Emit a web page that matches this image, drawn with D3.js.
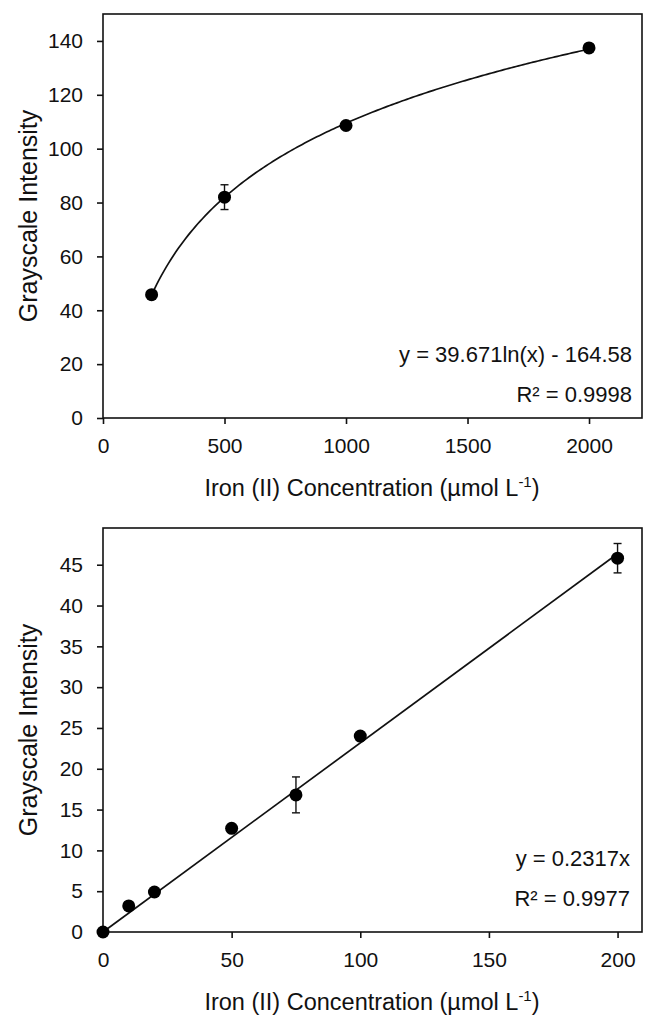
<!DOCTYPE html>
<html>
<head>
<meta charset="utf-8">
<script src="https://cdn.jsdelivr.net/npm/d3@7"></script>
<style>
  body { margin: 0; background: #fff; }
  svg { display: block; }
</style>
</head>
<body>
<svg id="chart" width="646" height="1020"></svg>
<script>
// Top panel: logarithmic calibration (200 - 2000 umol/L)
var topConc = [200, 500, 1000, 2000];
var topIntensity = [45.8, 82.0, 108.6, 137.4];
var topError = [0, 4.6, 0, 0];
var topTicksX = [0, 500, 1000, 1500, 2000];
var topTicksY = [0, 20, 40, 60, 80, 100, 120, 140];
var topSlope = 39.671, topIntercept = -164.58;

// Bottom panel: linear calibration (0 - 200 umol/L)
var botConc = [0, 10, 20, 50, 75, 100, 200];
var botIntensity = [0, 3.2, 4.9, 12.7, 16.8, 24.0, 45.8];
var botError = [0, 0, 0, 0, 2.2, 0, 1.8];
var botTicksX = [0, 50, 100, 150, 200];
var botTicksY = [0, 5, 10, 15, 20, 25, 30, 35, 40, 45];
var botSlope = 0.2317;

var FONT = "Liberation Sans, Arial, sans-serif";
var INK = "#111";

var svg = d3.select("#chart");

function drawPanel(opt) {
  var g = svg.append("g");
  var x = d3.scaleLinear().domain(opt.xDomain).range([opt.left, opt.right]);
  var y = d3.scaleLinear().domain(opt.yDomain).range([opt.bottom, opt.top]);

  // plot frame
  g.append("rect")
    .attr("x", opt.left).attr("y", opt.top)
    .attr("width", opt.right - opt.left).attr("height", opt.bottom - opt.top)
    .attr("fill", "none").attr("stroke", INK).attr("stroke-width", 1.6);

  function styleAxis(s) {
    s.select(".domain").remove();
    s.selectAll("line").attr("stroke", INK).attr("stroke-width", 1.6);
    s.selectAll("text").attr("font-size", 21).attr("font-family", FONT).attr("fill", INK);
  }

  g.append("g")
    .attr("transform", "translate(0," + opt.bottom + ")")
    .call(d3.axisBottom(x).tickValues(opt.ticksX).tickFormat(d3.format("d")).tickSize(6).tickPadding(14))
    .call(styleAxis);

  g.append("g")
    .attr("transform", "translate(" + opt.left + ",0)")
    .call(d3.axisLeft(y).tickValues(opt.ticksY).tickFormat(d3.format("d")).tickSize(6).tickPadding(14))
    .call(styleAxis);

  // trendline
  g.append("path")
    .datum(opt.fitX)
    .attr("fill", "none").attr("stroke", INK).attr("stroke-width", 1.7)
    .attr("d", d3.line().x(function(d) { return x(d); }).y(function(d) { return y(opt.fit(d)); }));

  // error bars
  var pts = opt.xs.map(function(v, i) { return { x: v, y: opt.ys[i], e: opt.err[i] }; });
  var eb = g.selectAll(".eb").data(pts.filter(function(d) { return d.e > 0; })).enter().append("g")
    .attr("stroke", INK).attr("stroke-width", 1.4);
  eb.append("line")
    .attr("x1", function(d) { return x(d.x); }).attr("x2", function(d) { return x(d.x); })
    .attr("y1", function(d) { return y(d.y - d.e); }).attr("y2", function(d) { return y(d.y + d.e); });
  [-1, 1].forEach(function(s) {
    eb.append("line")
      .attr("x1", function(d) { return x(d.x) - 4; }).attr("x2", function(d) { return x(d.x) + 4; })
      .attr("y1", function(d) { return y(d.y + s * d.e); }).attr("y2", function(d) { return y(d.y + s * d.e); });
  });

  // data points
  g.selectAll(".pt").data(pts).enter().append("circle")
    .attr("cx", function(d) { return x(d.x); })
    .attr("cy", function(d) { return y(d.y); })
    .attr("r", 6.5).attr("fill", "#000");

  // trendline equation and R²
  g.append("text").attr("text-anchor", "end")
    .attr("font-family", FONT).attr("font-size", 22).attr("fill", INK)
    .attr("x", opt.eqX).attr("y", opt.eqY).text(opt.eqText);
  g.append("text").attr("text-anchor", "end")
    .attr("font-family", FONT).attr("font-size", 22).attr("fill", INK)
    .attr("x", opt.eqX).attr("y", opt.eqY + 40).text(opt.r2Text);

  // axis titles
  var xt = g.append("text").attr("text-anchor", "middle")
    .attr("font-family", FONT).attr("font-size", 23.5).attr("fill", INK)
    .attr("x", 372).attr("y", opt.bottom + 78);
  xt.append("tspan").text("Iron (II) Concentration (\u00b5mol L");
  xt.append("tspan").attr("dy", -9).attr("font-size", 15).text("-1");
  xt.append("tspan").attr("dy", 9).text(")");

  g.append("text").attr("text-anchor", "middle")
    .attr("font-family", FONT).attr("font-size", 25).attr("fill", INK)
    .attr("transform", "translate(37," + ((opt.top + opt.bottom) / 2) + ") rotate(-90)")
    .text("Grayscale Intensity");
}

drawPanel({
  left: 103, right: 642, top: 14, bottom: 418,
  xDomain: [0, 2218], yDomain: [0, 150],
  ticksX: topTicksX, ticksY: topTicksY,
  xs: topConc, ys: topIntensity, err: topError,
  fitX: d3.range(200, 2001, 10),
  fit: function(v) { return topSlope * Math.log(v) + topIntercept; },
  eqX: 632, eqY: 362,
  eqText: "y = 39.671ln(x) - 164.58", r2Text: "R\u00b2 = 0.9998"
});

drawPanel({
  left: 103, right: 642, top: 528, bottom: 932,
  xDomain: [0, 209.5], yDomain: [0, 49.5],
  ticksX: botTicksX, ticksY: botTicksY,
  xs: botConc, ys: botIntensity, err: botError,
  fitX: [0, 200],
  fit: function(v) { return botSlope * v; },
  eqX: 630, eqY: 866,
  eqText: "y = 0.2317x", r2Text: "R\u00b2 = 0.9977"
});
</script>
</body>
</html>
